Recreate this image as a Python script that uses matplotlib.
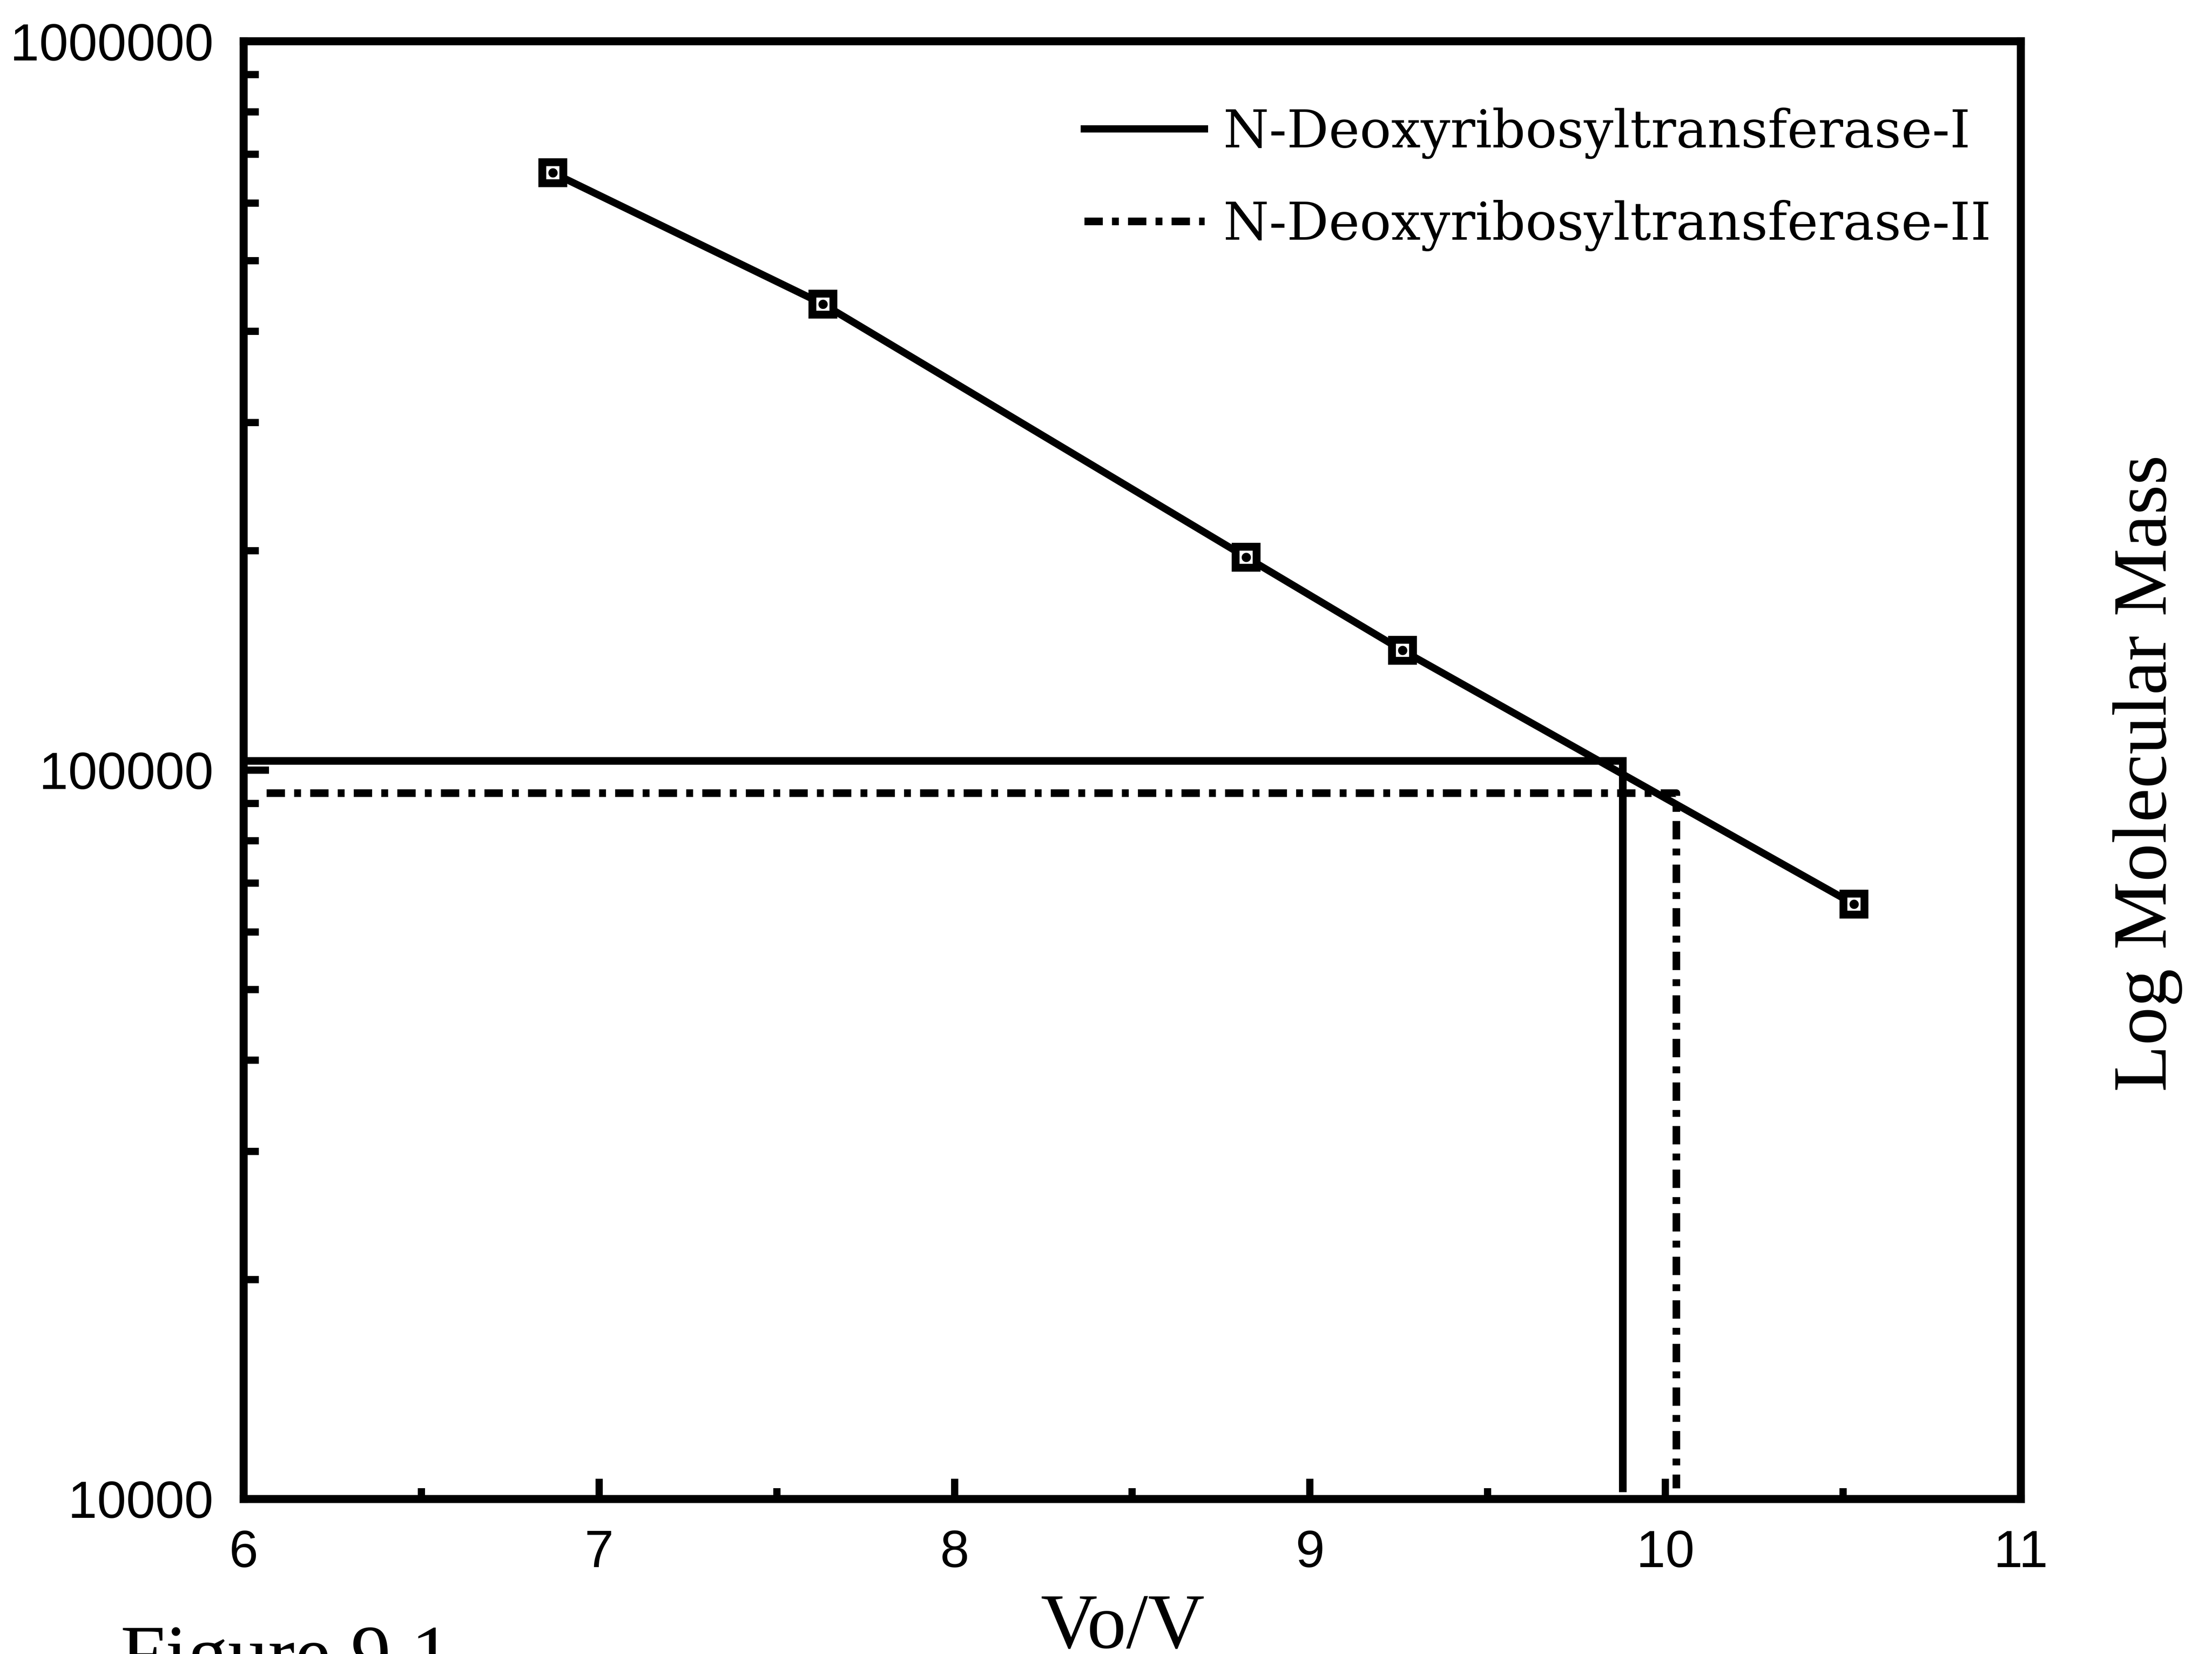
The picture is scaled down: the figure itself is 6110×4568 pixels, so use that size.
import matplotlib
matplotlib.use('Agg')
import matplotlib.pyplot as plt
from matplotlib.lines import Line2D
from matplotlib.ticker import MultipleLocator, LogLocator, FuncFormatter, NullFormatter

# ---- data ----
std_vo_v = [6.87, 7.63, 8.82, 9.26, 10.53]          # calibration standards, Vo/V
std_mass = [660000, 436000, 196000, 146000, 65500]  # molecular mass

enz1_vo_v = 9.88      # N-Deoxyribosyltransferase-I
enz1_mass = 103000
enz2_vo_v = 10.03     # N-Deoxyribosyltransferase-II
enz2_mass = 93000
drop_foot = 10350     # where the vertical drop lines end

legend_labels = ['N-Deoxyribosyltransferase-I', 'N-Deoxyribosyltransferase-II']
x_ticks = [6, 7, 8, 9, 10, 11]
y_ticks = [10000, 100000, 1000000]

SERIF = ['Liberation Serif', 'DejaVu Serif']
LEG_SERIF = ['DejaVu Serif']
SANS = ['Liberation Sans', 'DejaVu Sans']

fig = plt.figure(figsize=(15.275, 11.42), dpi=400, facecolor='white')
ax = fig.add_axes([0.11015, 0.09370, 0.80343, 0.88134])
ax.set_yscale('log')
ax.set_xlim(6, 11)
ax.set_ylim(1e4, 1e6)

dashdot = (2.4, 1.2, 0.9, 1.2)

# standard curve
ax.plot(std_vo_v, std_mass, color='black', lw=3.6, marker='s', ms=10.5, mew=3.9,
        mfc='white', mec='black', zorder=4, solid_capstyle='butt')
ax.plot(std_vo_v, std_mass, ls='none', marker='o', ms=3.6, color='black', zorder=5)

# interpolation lines
ax.plot([ax.get_xlim()[0], enz1_vo_v, enz1_vo_v], [enz1_mass, enz1_mass, drop_foot],
        color='black', lw=3.8, solid_joinstyle='miter', zorder=3)
ax.plot([6.064, enz2_vo_v, enz2_vo_v], [enz2_mass, enz2_mass, drop_foot],
        color='black', lw=3.8, dashes=dashdot, zorder=3)

# axes styling
for s in ax.spines.values():
    s.set_linewidth(4)
ax.xaxis.set_major_locator(MultipleLocator(1))
ax.xaxis.set_minor_locator(MultipleLocator(0.5))
ax.set_xticks(x_ticks)
ax.yaxis.set_major_locator(LogLocator(base=10))
ax.yaxis.set_minor_locator(LogLocator(base=10, subs=range(2, 10)))
ax.yaxis.set_minor_formatter(NullFormatter())
ax.set_yticks(y_ticks)
ax.yaxis.set_major_formatter(FuncFormatter(lambda v, p: f'{int(round(v))}'))
ax.xaxis.set_major_formatter(FuncFormatter(lambda v, p: f'{int(round(v))}'))

ax.tick_params(which='both', direction='in', top=False, right=False, width=3.6, color='black')
ax.tick_params(axis='x', which='major', length=10, pad=15)
ax.tick_params(axis='x', which='minor', length=5.4)
ax.tick_params(axis='y', which='major', length=12.6, pad=15)
ax.tick_params(axis='y', which='minor', length=7.5)
for lab in ax.get_xticklabels() + ax.get_yticklabels():
    lab.set_family(SANS)
    lab.set_fontsize(26)

# legend
handles = [Line2D([], [], color='black', lw=3.6),
           Line2D([], [], color='black', lw=3.8, dashes=dashdot)]
ax.legend(handles, legend_labels, loc='upper left', bbox_to_anchor=(0.4902, 0.935),
          bbox_transform=fig.transFigure, frameon=False,
          prop={'family': LEG_SERIF, 'size': 26}, handlelength=2.3, handletextpad=0.36,
          labelspacing=0.78, borderpad=0, borderaxespad=0)

# labels
fig.text(0.971, 0.5324, 'Log Molecular Mass', rotation=90, ha='center', va='center',
         family=SERIF, fontsize=38)
fig.text(0.5075, 0.0037, 'Vo/V', ha='center', va='baseline', family=SERIF, fontsize=39)
fig.text(0.0545, -0.016, 'Figure 9.1', ha='left', va='baseline', family=SERIF, fontsize=40)

fig.savefig('out.png', dpi=400, facecolor='white')
